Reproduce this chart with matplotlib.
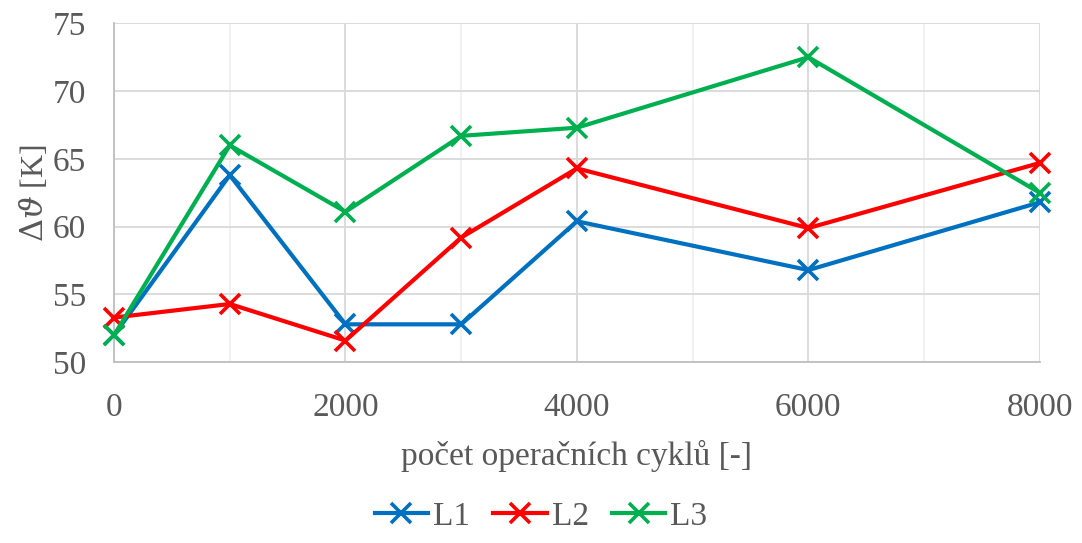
import numpy as np
import matplotlib
matplotlib.use('Agg')
import matplotlib.pyplot as plt
from matplotlib.ticker import MultipleLocator

# data
cycles = [0, 1000, 2000, 3000, 4000, 6000, 8000]
L1 = [52.0, 63.8, 52.8, 52.8, 60.4, 56.8, 61.8]
L2 = [53.3, 54.3, 51.6, 59.2, 64.3, 59.9, 64.7]
L3 = [52.0, 66.0, 61.1, 66.7, 67.3, 72.5, 62.5]
series_names = ['L1', 'L2', 'L3']
colors = ['#0070C0', '#FF0000', '#00B050']

plt.rcParams['font.family'] = ['Liberation Serif', 'DejaVu Serif']
plt.rcParams['mathtext.fontset'] = 'dejavuserif'
text_col = '#595959'

fig = plt.figure(figsize=(10.82, 5.43), dpi=100)
ax = fig.add_axes([0.1054, 0.3328, 0.8556, 0.6243])

for vals, name, c in zip([L1, L2, L3], series_names, colors):
    ax.plot(cycles, vals, color=c, lw=3.0, marker='x', markersize=14,
            markeredgewidth=2.6, label=name, zorder=3, clip_on=False)

ax.set_xlim(0, 8000)
ax.set_ylim(50, 75)
ax.xaxis.set_major_locator(MultipleLocator(2000))
ax.xaxis.set_minor_locator(MultipleLocator(1000))
ax.yaxis.set_major_locator(MultipleLocator(5))

ax.grid(True, which='major', color='#D9D9D9', lw=1.3, zorder=0)
ax.grid(True, which='minor', axis='x', color='#F0F0F0', lw=1.3, zorder=0)
ax.set_axisbelow(True)

for s in ['top', 'right']:
    ax.spines[s].set_visible(False)
for s in ['left', 'bottom']:
    ax.spines[s].set_color('#BFBFBF')
    ax.spines[s].set_linewidth(1.3)

ax.tick_params(which='both', length=0, labelsize=24, labelcolor=text_col)
ax.tick_params(axis='x', pad=22)
ax.tick_params(axis='y', pad=20)

ax.set_xlabel('počet operačních cyklů [-]', fontsize=24, color=text_col, labelpad=12)
ax.set_ylabel(r'$\mathit{\Delta\vartheta}$ [K]', fontsize=23, color=text_col, labelpad=2)

fig.legend(loc='lower center', bbox_to_anchor=(0.5, -0.035), ncol=3, frameon=False,
           fontsize=24, labelcolor=text_col, handlelength=1.6, handletextpad=0.15,
           columnspacing=0.7)

fig.savefig('out.png', dpi=100)
